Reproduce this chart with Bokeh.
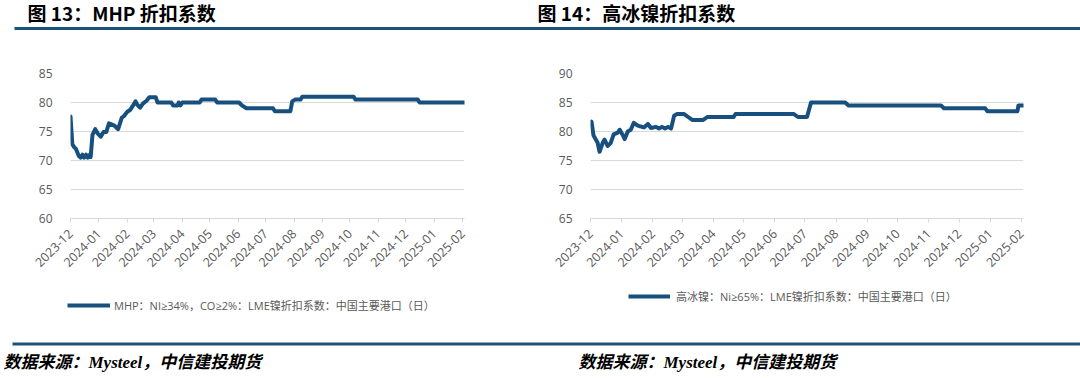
import math
import pandas as pd
from bokeh.plotting import figure
from bokeh.models import (Range1d, FixedTicker, MonthsTicker, DatetimeTickFormatter,
                          Legend, LegendItem)
from bokeh.layouts import row, column
from bokeh.core.properties import value
from bokeh.embed import file_html
from bokeh.resources import INLINE

# ---------------- data ----------------
mhp_dates = ["2023-12-01", "2023-12-03", "2023-12-05", "2023-12-07", "2023-12-10", "2023-12-12",
             "2023-12-14", "2023-12-16", "2023-12-18", "2023-12-20", "2023-12-22", "2023-12-23",
             "2023-12-25", "2023-12-28", "2023-12-31", "2024-01-03", "2024-01-06", "2024-01-09",
             "2024-01-12", "2024-01-18", "2024-01-22", "2024-01-26", "2024-01-28", "2024-02-01",
             "2024-02-04", "2024-02-07", "2024-02-10", "2024-02-12", "2024-02-15", "2024-02-18",
             "2024-02-22", "2024-02-25", "2024-03-03", "2024-03-05", "2024-03-20", "2024-03-22",
             "2024-03-27", "2024-03-28", "2024-03-30", "2024-04-01", "2024-04-20", "2024-04-22",
             "2024-05-07", "2024-05-09", "2024-06-02", "2024-06-05", "2024-06-10", "2024-07-09",
             "2024-07-11", "2024-07-28", "2024-07-30", "2024-08-02", "2024-08-08", "2024-08-10",
             "2024-10-05", "2024-10-07", "2024-12-14", "2024-12-16", "2025-02-03"]
mhp_values = [77.6, 72.8, 72.3, 72.0, 70.8, 70.5,
              71.0, 70.5, 71.0, 70.5, 71.0, 70.6,
              74.4, 75.4, 74.6, 74.1, 74.9, 74.9,
              76.4, 76.0, 75.4, 77.4, 77.6, 78.4,
              78.7, 79.4, 80.2, 79.6, 79.1, 79.8,
              80.3, 80.9, 80.9, 80.0, 80.0, 79.5,
              79.5, 80.0, 79.5, 80.0, 80.0, 80.5,
              80.5, 80.0, 80.0, 79.5, 79.0, 79.0,
              78.5, 78.5, 80.2, 80.5, 80.5, 81.0,
              81.0, 80.5, 80.5, 80.0, 80.0]

hni_dates = ["2023-12-01", "2023-12-02", "2023-12-04", "2023-12-08", "2023-12-10", "2023-12-13",
             "2023-12-15", "2023-12-18", "2023-12-21", "2023-12-24", "2023-12-28", "2023-12-30",
             "2024-01-02", "2024-01-04", "2024-01-07", "2024-01-10", "2024-01-13", "2024-01-17",
             "2024-01-23", "2024-01-27", "2024-01-30", "2024-02-04", "2024-02-07", "2024-02-10",
             "2024-02-13", "2024-02-16", "2024-02-19", "2024-02-22", "2024-02-25", "2024-03-03",
             "2024-03-07", "2024-03-11", "2024-03-22", "2024-03-26", "2024-04-21", "2024-04-23",
             "2024-06-20", "2024-06-24", "2024-07-03", "2024-07-07", "2024-08-10", "2024-08-13",
             "2024-11-13", "2024-11-16", "2024-12-27", "2024-12-29", "2025-01-28", "2025-01-29",
             "2025-02-03"]
hni_values = [81.5, 81.7, 79.3, 78.1, 76.5, 78.0,
              78.6, 77.5, 78.0, 79.5, 79.8, 80.3,
              79.4, 78.7, 80.0, 80.3, 81.5, 81.0,
              80.7, 81.3, 80.6, 80.8, 80.5, 80.8,
              80.5, 80.8, 80.5, 82.7, 83.0, 83.0,
              82.5, 82.0, 82.0, 82.5, 82.5, 83.0,
              83.0, 82.5, 82.5, 85.0, 85.0, 84.5,
              84.5, 84.0, 84.0, 83.5, 83.5, 84.5,
              84.5]

mhp_yticks = [60, 65, 70, 75, 80, 85]
hni_yticks = [65, 70, 75, 80, 85, 90]
x_start = "2023-12-01"
x_end = "2025-02-03"

title_left = "图 13：MHP 折扣系数"
title_right = "图 14：高冰镍折扣系数"
legend_left = "MHP：NI≥34%，CO≥2%：LME镍折扣系数：中国主要港口（日）"
legend_right = "高冰镍：Ni≥65%：LME镍折扣系数：中国主要港口（日）"
source_text = "数据来源：Mysteel，中信建投期货"

# ---------------- style ----------------
LINE_COLOR = "#17507E"
RULE_COLOR = "#1C5378"
GRID_COLOR = "#D9D9D9"
TEXT_GREY = "#595959"
CJK = "Noto Sans CJK SC"
LEG_FONT = "Open Sans, Noto Sans CJK SC"
SRC_FONT = "Liberation Serif, Noto Sans CJK SC"

W = 1080
H = 378
HEAD_H = 40          # header strip: page y 0..40
CHART_BOTTOM = 287   # chart row: page y 40..287
PANEL_W = 540


def strip(y0, y1):
    """Figure whose frame fills the strip; data coords equal page pixels."""
    f = figure(width=W, height=y1 - y0, output_backend="svg", toolbar_location=None,
               x_range=Range1d(0, W), y_range=Range1d(y1, y0),
               min_border=0, min_border_left=0, min_border_right=0,
               min_border_top=0, min_border_bottom=0)
    f.axis.visible = False
    f.grid.visible = False
    f.outline_line_color = None
    f.background_fill_color = "white"
    f.border_fill_color = "white"
    return f


def make_chart(offset_x, fl, fr, ft, fb, dates, values, yticks):
    p = figure(width=PANEL_W, height=CHART_BOTTOM - HEAD_H, x_axis_type="datetime",
               output_backend="svg", toolbar_location=None,
               min_border_left=fl - offset_x, min_border_right=offset_x + PANEL_W - fr,
               min_border_top=ft - HEAD_H, min_border_bottom=CHART_BOTTOM - fb)
    p.x_range = Range1d(pd.Timestamp(x_start), pd.Timestamp(x_end))
    p.y_range = Range1d(yticks[0], yticks[-1])
    p.outline_line_color = None
    p.background_fill_color = "white"
    p.border_fill_color = "white"

    p.line(pd.to_datetime(dates), values, line_color=LINE_COLOR, line_width=4,
           line_join="round", line_cap="round")

    p.yaxis.ticker = FixedTicker(ticks=yticks)
    p.yaxis.axis_line_color = None
    p.yaxis.major_tick_line_color = None
    p.yaxis.minor_tick_line_color = None
    p.yaxis.major_label_standoff = 12
    p.yaxis.major_label_text_font = "Open Sans"
    p.yaxis.major_label_text_font_size = "12px"
    p.yaxis.major_label_text_color = TEXT_GREY

    p.xaxis.ticker = MonthsTicker(months=list(range(12)))
    fmt = "%Y-%m"
    p.xaxis.formatter = DatetimeTickFormatter(months=fmt, days=fmt, years=fmt, hours=fmt,
                                              hourmin=fmt, minutes=fmt, minsec=fmt,
                                              seconds=fmt, milliseconds=fmt, microseconds=fmt)
    p.xaxis.major_label_orientation = math.pi / 4
    p.xaxis.axis_line_color = GRID_COLOR
    p.xaxis.major_tick_line_color = GRID_COLOR
    p.xaxis.major_tick_in = 0
    p.xaxis.major_tick_out = 4
    p.xaxis.minor_tick_line_color = None
    p.xaxis.major_label_standoff = 9
    p.xaxis.major_label_text_font = "Open Sans"
    p.xaxis.major_label_text_font_size = "12.5px"
    p.xaxis.major_label_text_color = TEXT_GREY

    p.xgrid.grid_line_color = None
    p.ygrid.ticker = FixedTicker(ticks=yticks)
    p.ygrid.grid_line_color = GRID_COLOR
    p.ygrid.grid_line_width = 1
    return p


# ---------------- header: titles + top rule ----------------
head = strip(0, HEAD_H)
head.text(x=[27, 537], y=[12, 12], text=[title_left, title_right],
          text_font=value(CJK), text_font_style="bold", text_font_size="19px",
          text_color="black", text_align="left", text_baseline="middle")
head.quad(left=[14], right=[W], top=[26.5], bottom=[29.5],
          fill_color=RULE_COLOR, line_color=None)

# ---------------- charts ----------------
p_left = make_chart(offset_x=0, fl=70, fr=464, ft=65, fb=226,
                    dates=mhp_dates, values=mhp_values, yticks=mhp_yticks)
p_right = make_chart(offset_x=540, fl=590, fr=1023, ft=73, fb=218,
                     dates=hni_dates, values=hni_values, yticks=hni_yticks)

# ---------------- footer: legends, bottom rule, source ----------------
foot = strip(CHART_BOTTOM, H)
nan = float("nan")
r_left = foot.line(x=[nan], y=[nan], line_color=LINE_COLOR, line_width=4)
r_right = foot.line(x=[nan], y=[nan], line_color=LINE_COLOR, line_width=4)


def add_legend(fig, renderer, text, x0, x1, yc, standoff):
    leg = Legend(items=[LegendItem(label=text, renderers=[renderer])],
                 location=(x0, H - (yc + 8)),
                 padding=0, margin=0, spacing=0,
                 glyph_width=x1 - x0, glyph_height=12, label_height=12,
                 label_standoff=standoff,
                 border_line_color=None, background_fill_alpha=0,
                 label_text_font=LEG_FONT, label_text_font_size="11px",
                 label_text_color=TEXT_GREY)
    fig.add_layout(leg)


add_legend(foot, r_left, legend_left, 67, 110, 305, 4)
add_legend(foot, r_right, legend_right, 628, 670, 296, 6)

foot.quad(left=[12], right=[W], top=[342], bottom=[345],
          fill_color=RULE_COLOR, line_color=None)
foot.text(x=[3, 578], y=[362, 362], text=[source_text, source_text],
          text_font=value(SRC_FONT), text_font_style="bold italic", text_font_size="17px",
          text_color="black", text_align="left", text_baseline="middle")

layout = column(head, row(p_left, p_right, spacing=0), foot, spacing=0)
open("out.html", "w").write(file_html(layout, INLINE))
